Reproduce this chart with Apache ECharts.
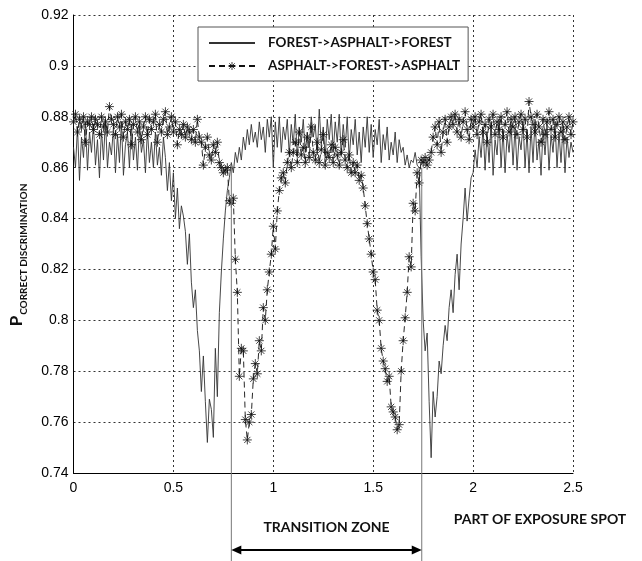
<!DOCTYPE html>
<html>
<head>
<meta charset="utf-8">
<script src="https://cdn.jsdelivr.net/npm/echarts@6/dist/echarts.min.js"></script>
<style>
  html, body { margin: 0; padding: 0; background: #fff; }
  #chart { width: 642px; height: 561px; }
</style>
</head>
<body>
<div id="chart"></div>
<script>
// samples every 0.01 of the exposure spot, from 0 to 2.5
const xStep = 0.01;

const forest = [
  0.868, 0.860, 0.876, 0.855, 0.872, 0.864, 0.878, 0.859, 0.874, 0.866,
  0.877, 0.861, 0.871, 0.856, 0.875, 0.863, 0.879, 0.860, 0.870, 0.865,
  0.876, 0.858, 0.873, 0.862, 0.878, 0.857, 0.869, 0.874, 0.860, 0.877,
  0.863, 0.872, 0.859, 0.876, 0.866, 0.871, 0.858, 0.875, 0.862, 0.870,
  0.860, 0.874, 0.861, 0.868, 0.857, 0.872, 0.864, 0.851, 0.862, 0.847,
  0.858, 0.840, 0.852, 0.836, 0.845, 0.841, 0.835, 0.822, 0.834, 0.815,
  0.805, 0.812, 0.796, 0.788, 0.772, 0.786, 0.768, 0.752, 0.769, 0.765,
  0.754, 0.789, 0.770, 0.803, 0.819, 0.832, 0.843, 0.851, 0.856, 0.862,
  0.858, 0.866, 0.862, 0.868, 0.863, 0.872, 0.867, 0.875, 0.869, 0.877,
  0.870, 0.874, 0.868, 0.878, 0.871, 0.876, 0.866, 0.879, 0.872, 0.880,
  0.860, 0.878, 0.868, 0.880, 0.866, 0.876, 0.871, 0.879, 0.865, 0.877,
  0.869, 0.881, 0.864, 0.876, 0.870, 0.879, 0.866, 0.874, 0.868, 0.880,
  0.872, 0.877, 0.865, 0.883, 0.869, 0.876, 0.864, 0.879, 0.871, 0.881,
  0.866, 0.878, 0.870, 0.881, 0.865, 0.877, 0.868, 0.880, 0.863, 0.875,
  0.869, 0.879, 0.865, 0.874, 0.862, 0.876, 0.868, 0.880, 0.866, 0.877,
  0.864, 0.875, 0.869, 0.879, 0.862, 0.873, 0.867, 0.876, 0.863, 0.870,
  0.865, 0.874, 0.862, 0.871, 0.866, 0.868, 0.861, 0.865, 0.860, 0.863,
  0.862, 0.866, 0.861, 0.860, 0.825, 0.800, 0.788, 0.795, 0.768, 0.746,
  0.772, 0.762, 0.770, 0.784, 0.779, 0.790, 0.798, 0.792, 0.805, 0.812,
  0.803, 0.818, 0.826, 0.812, 0.830, 0.840, 0.852, 0.839, 0.848, 0.856,
  0.858, 0.867, 0.860, 0.872, 0.864, 0.876, 0.859, 0.874, 0.862, 0.878,
  0.857, 0.871, 0.865, 0.879, 0.860, 0.875, 0.858, 0.873, 0.866, 0.877,
  0.861, 0.876, 0.859, 0.872, 0.867, 0.878, 0.860, 0.874, 0.858, 0.876,
  0.862, 0.879, 0.863, 0.871, 0.857, 0.875, 0.865, 0.877, 0.859, 0.873,
  0.866, 0.878, 0.860, 0.874, 0.862, 0.876, 0.858, 0.872, 0.864, 0.870,
  0.866
];

const asphalt = [
  0.878, 0.881, 0.874, 0.879, 0.876, 0.880, 0.870, 0.878, 0.877, 0.880,
  0.875, 0.879, 0.877, 0.873, 0.880, 0.876, 0.878, 0.874, 0.884, 0.879,
  0.877, 0.873, 0.880, 0.876, 0.881, 0.872, 0.878, 0.875, 0.879, 0.869,
  0.877, 0.880, 0.874, 0.878, 0.871, 0.876, 0.880, 0.873, 0.879, 0.875,
  0.878, 0.881, 0.870, 0.877, 0.874, 0.879, 0.882, 0.873, 0.876, 0.880,
  0.874, 0.878, 0.869, 0.875, 0.873, 0.877, 0.872, 0.876, 0.874, 0.871,
  0.875, 0.870, 0.879, 0.872, 0.870, 0.861, 0.868, 0.872, 0.865, 0.863,
  0.869, 0.866, 0.870, 0.862, 0.860, 0.858, 0.859, 0.860, 0.847, 0.846,
  0.848, 0.824, 0.811, 0.778, 0.789, 0.788, 0.761, 0.753, 0.760, 0.763,
  0.777, 0.783, 0.779, 0.792, 0.788, 0.805, 0.800, 0.812, 0.819, 0.826,
  0.837, 0.828, 0.843, 0.851, 0.856, 0.858, 0.854, 0.862, 0.866, 0.860,
  0.866, 0.870, 0.862, 0.874, 0.865, 0.868, 0.862, 0.872, 0.864, 0.876,
  0.866, 0.863, 0.870, 0.862, 0.867, 0.873, 0.861, 0.866, 0.864, 0.869,
  0.862, 0.868, 0.865, 0.861, 0.866, 0.871, 0.863, 0.860, 0.865, 0.858,
  0.862, 0.858, 0.861, 0.855, 0.857, 0.852, 0.845, 0.838, 0.832, 0.826,
  0.819, 0.816, 0.804, 0.800, 0.789, 0.784, 0.781, 0.776, 0.778, 0.766,
  0.764, 0.762, 0.757, 0.759, 0.780, 0.792, 0.801, 0.811, 0.825, 0.821,
  0.846, 0.843, 0.858, 0.854, 0.863, 0.862, 0.864, 0.861, 0.863, 0.866,
  0.872, 0.876, 0.869, 0.878, 0.866, 0.874, 0.879, 0.870, 0.876, 0.880,
  0.877, 0.881, 0.874, 0.879, 0.872, 0.878, 0.882, 0.875, 0.871, 0.879,
  0.876, 0.880, 0.873, 0.878, 0.881, 0.874, 0.877, 0.870, 0.879, 0.876,
  0.881, 0.873, 0.878, 0.875, 0.880, 0.872, 0.877, 0.882, 0.874, 0.879,
  0.876, 0.880, 0.873, 0.878, 0.881, 0.875, 0.879, 0.872, 0.886, 0.880,
  0.877, 0.874, 0.881, 0.876, 0.870, 0.879, 0.873, 0.878, 0.882, 0.875,
  0.879, 0.872, 0.877, 0.880, 0.874, 0.878, 0.871, 0.876, 0.880, 0.873,
  0.878
];

const seriesNames = ['FOREST->ASPHALT->FOREST', 'ASPHALT->FOREST->ASPHALT'];
const xTicks = [0, 0.5, 1, 1.5, 2, 2.5];

// transition zone edges (x) and where the marker lines start (y)
const zoneStart = 0.79;
const zoneEnd = 1.743;
const zoneTop = 0.86;

const toPairs = (arr) => arr.map((v, i) => [+(i * xStep).toFixed(2), v]);

const star = 'path://M0 5L10 5M5 0L5 10M1.6 1.6L8.4 8.4M8.4 1.6L1.6 8.4';
const boldFont = 'Lato';

const chart = echarts.init(document.getElementById('chart'));

const option = {
  backgroundColor: '#fff',
  animation: false,
  grid: {
    left: 73,
    right: 69,
    top: 15,
    bottom: 88,
  },
  legend: {
    orient: 'vertical',
    left: 198,
    top: 27,
    itemWidth: 46,
    itemHeight: 10,
    itemGap: 9,
    padding: [9, 8, 8, 10],
    borderColor: '#555',
    borderWidth: 1,
    backgroundColor: '#fff',
    textStyle: {
      fontFamily: boldFont,
      fontWeight: 'bold',
      fontSize: 13.5,
      color: '#111',
      padding: [0, 0, 0, 8],
    },
    data: [
      { name: seriesNames[0], itemStyle: { opacity: 0 } },
      { name: seriesNames[1], itemStyle: { color: 'transparent', borderColor: '#111', borderWidth: 0.8 } },
    ],
  },
  xAxis: {
    type: 'value',
    min: 0,
    max: 2.5,
    interval: 0.5,
    axisLine: { show: true, lineStyle: { color: '#000', width: 1 } },
    axisTick: { show: false },
    axisLabel: {
      color: '#000',
      fontFamily: 'Liberation Sans',
      fontSize: 14,
      margin: 8,
      formatter: (v) => String(xTicks.find((t) => Math.abs(t - v) < 1e-6) ?? v),
    },
    splitLine: {
      show: true,
      lineStyle: { color: '#333', type: [2, 3], width: 1 },
    },
  },
  yAxis: {
    type: 'value',
    min: 0.74,
    max: 0.92,
    interval: 0.02,
    name: '{p|P}{s|CORRECT DISCRIMINATION}',
    nameLocation: 'middle',
    nameRotate: 90,
    nameGap: 47,
    nameTextStyle: {
      rich: {
        p: { fontFamily: boldFont, fontWeight: 'bold', fontSize: 17, color: '#111', lineHeight: 20 },
        s: { fontFamily: boldFont, fontWeight: 'bold', fontSize: 10, color: '#111', verticalAlign: 'bottom', lineHeight: 12, padding: [0, 22, -2, 1] },
      },
    },
    axisLine: { show: true, lineStyle: { color: '#000', width: 1 } },
    axisTick: { show: false },
    axisLabel: {
      color: '#000',
      fontFamily: 'Liberation Sans',
      fontSize: 14,
      margin: 5,
      formatter: (v) => String(+v.toFixed(2)),
    },
    splitLine: {
      show: true,
      lineStyle: { color: '#333', type: [2, 3], width: 1 },
    },
  },
  series: [
    {
      name: seriesNames[0],
      type: 'line',
      data: toPairs(forest),
      symbol: 'none',
      lineStyle: { color: '#333', width: 0.9 },
      itemStyle: { color: '#333' },
      z: 2,
    },
    {
      name: seriesNames[1],
      type: 'line',
      data: toPairs(asphalt),
      symbol: star,
      symbolSize: 9,
      showSymbol: true,
      showAllSymbol: true,
      lineStyle: { color: '#111', width: 0.9, type: [6, 4] },
      itemStyle: { color: 'transparent', borderColor: '#111', borderWidth: 0.8 },
      z: 3,
    },
  ],
};

chart.setOption(option);

// transition zone marks, placed through the chart's own scales
const a = chart.convertToPixel({ gridIndex: 0 }, [zoneStart, zoneTop]);
const b = chart.convertToPixel({ gridIndex: 0 }, [zoneEnd, zoneTop]);
const arrowY = 550;
const head = 10;

chart.setOption({
  graphic: [
    { type: 'line', shape: { x1: a[0], y1: a[1], x2: a[0], y2: 561 }, style: { stroke: '#777', lineWidth: 1 }, z: 10 },
    { type: 'line', shape: { x1: b[0], y1: b[1], x2: b[0], y2: 561 }, style: { stroke: '#777', lineWidth: 1 }, z: 10 },
    { type: 'line', shape: { x1: a[0] + 4, y1: arrowY, x2: b[0] - 4, y2: arrowY }, style: { stroke: '#000', lineWidth: 2 }, z: 10 },
    { type: 'polygon', shape: { points: [[a[0], arrowY], [a[0] + head, arrowY - 4.5], [a[0] + head, arrowY + 4.5]] }, style: { fill: '#000' }, z: 10 },
    { type: 'polygon', shape: { points: [[b[0], arrowY], [b[0] - head, arrowY - 4.5], [b[0] - head, arrowY + 4.5]] }, style: { fill: '#000' }, z: 10 },
    {
      type: 'text',
      x: (a[0] + b[0]) / 2,
      y: 527,
      style: { text: 'TRANSITION ZONE', fontFamily: boldFont, fontWeight: 'bold', fontSize: 14, fill: '#111', align: 'center', verticalAlign: 'middle' },
      z: 10,
    },
    {
      type: 'text',
      x: 540,
      y: 519,
      style: { text: 'PART OF EXPOSURE SPOT', fontFamily: boldFont, fontWeight: 'bold', fontSize: 14, fill: '#111', align: 'center', verticalAlign: 'middle' },
      z: 10,
    },
  ],
});
</script>
</body>
</html>
